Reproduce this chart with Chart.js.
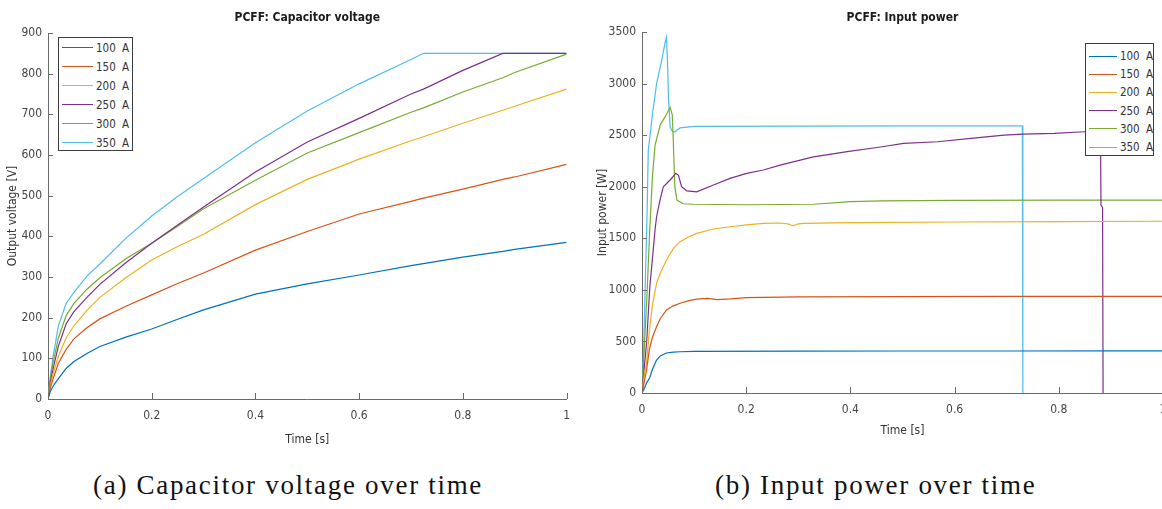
<!DOCTYPE html>
<html>
<head>
<meta charset="utf-8">
<script src="https://cdn.jsdelivr.net/npm/chart.js@4.4.0/dist/chart.umd.min.js"></script>
<style>
    html, body { margin: 0; padding: 0; background: #fff; overflow: hidden; width: 1162px; height: 509px; }
    canvas { position: absolute; top: 0; }
    #voltCanvas { left: 0; }
    #powerCanvas { left: 580px; }
    .legend { position: absolute; background: #fff; border: 1px solid #3c3c3c; box-sizing: border-box;
        font-family: 'Liberation Sans Narrow', 'DejaVu Sans Condensed', 'Liberation Sans', sans-serif;
        font-size: 11.5px; color: #333; }
    .legend .row { display: flex; align-items: center; white-space: pre; word-spacing: 3px; }
    .legend .swatch { display: inline-block; width: 31px; height: 0; border-top: 1.2px solid; margin-right: 3px; }
    .caption { position: absolute; top: 470px; line-height: 30px; white-space: nowrap;
        font-family: 'Liberation Serif', 'DejaVu Serif', serif; font-size: 27px; letter-spacing: 1.7px; color: #111; }
</style>
</head>
<body>
<canvas id="voltCanvas" width="580" height="460"></canvas>
<canvas id="powerCanvas" width="600" height="460"></canvas>
<div id="voltLegend" class="legend" style="left:58px; top:37px; width:75px; height:114px;"></div>
<div id="powerLegend" class="legend" style="left:1085px; top:43px; width:69px; height:113px; padding-top:3px;"></div>
<div class="caption" style="left:93px;">(a) Capacitor voltage over time</div>
<div class="caption" style="left:715px;">(b) Input power over time</div>
<script>
// Legenden ve seriler
const seriesLabels = ["100 A", "150 A", "200 A", "250 A", "300 A", "350 A"];
const seriesColors = ["#0072BD", "#D95319", "#EDB120", "#7E2F8E", "#77AC30", "#4DBEEE"];

// Eksen etiketleri
const timeTicks = [0, 0.2, 0.4, 0.6, 0.8, 1];
const voltTicks = [0, 100, 200, 300, 400, 500, 600, 700, 800, 900];
const powerTicks = [0, 500, 1000, 1500, 2000, 2500, 3000, 3500];

// (a) Kondansatör gerilimi [V]
const voltTime = [0, 0.005, 0.01, 0.02, 0.035, 0.05, 0.075, 0.1, 0.15, 0.2, 0.25, 0.3, 0.4, 0.5, 0.6, 0.7, 0.724, 0.8, 0.877, 0.9, 1.0];
const volt100 = [0, 20, 32, 50, 75, 92, 112, 129, 152, 172, 196, 219, 258, 283, 305, 328, 333, 349, 363, 368, 385];
const volt150 = [0, 30, 50, 88, 122, 148, 175, 197, 228, 256, 284, 310, 366, 412, 455, 486, 494, 516, 540, 546, 577];
const volt200 = [0, 38, 62, 105, 150, 180, 218, 250, 298, 342, 375, 405, 478, 540, 590, 635, 645, 678, 710, 720, 762];
const volt250 = [0, 45, 75, 130, 185, 215, 250, 282, 335, 383, 428, 472, 558, 632, 690, 750, 762, 808, 850, 850, 850];
const volt300 = [0, 55, 90, 150, 205, 235, 270, 298, 345, 383, 425, 468, 538, 605, 655, 705, 716, 755, 790, 803, 848];
const volt350 = [0, 60, 105, 180, 235, 262, 302, 332, 395, 450, 498, 542, 630, 708, 775, 835, 850, 850, 850, 850, 850];

// (b) Giriş gücü [W]
const power100Time = [0, 0.004, 0.009, 0.015, 0.02, 0.028, 0.035, 0.047, 0.06, 0.073, 0.1, 0.3, 0.5, 0.7, 0.9, 1.0];
const power100 = [0, 40, 100, 150, 230, 320, 360, 388, 396, 400, 404, 406, 407, 407, 408, 408];
const power150Time = [0, 0.004, 0.009, 0.014, 0.02, 0.028, 0.035, 0.047, 0.06, 0.073, 0.09, 0.105, 0.125, 0.145, 0.17, 0.2, 0.3, 0.5, 0.7, 1.0];
const power150 = [0, 100, 230, 420, 540, 643, 720, 805, 845, 870, 895, 910, 918, 905, 912, 925, 932, 935, 936, 937];
const power200Time = [0, 0.005, 0.009, 0.014, 0.02, 0.028, 0.035, 0.047, 0.06, 0.073, 0.09, 0.105, 0.137, 0.169, 0.201, 0.233, 0.265, 0.28, 0.29, 0.3, 0.31, 0.4, 0.6, 0.8, 1.0];
const power200 = [0, 200, 300, 600, 850, 1066, 1160, 1290, 1400, 1467, 1515, 1547, 1590, 1612, 1630, 1645, 1648, 1640, 1622, 1640, 1645, 1652, 1658, 1662, 1665];
const power250Time = [0, 0.009, 0.015, 0.02, 0.025, 0.028, 0.035, 0.041, 0.054, 0.065, 0.07, 0.076, 0.086, 0.105, 0.137, 0.169, 0.201, 0.233, 0.265, 0.329, 0.394, 0.458, 0.502, 0.567, 0.631, 0.695, 0.73, 0.791, 0.849, 0.88, 0.881, 0.884, 0.885];
const power250 = [0, 500, 1030, 1300, 1580, 1709, 1880, 2000, 2065, 2130, 2110, 2000, 1960, 1950, 2016, 2081, 2130, 2162, 2210, 2290, 2340, 2385, 2420, 2436, 2469, 2500, 2510, 2517, 2533, 2540, 1820, 1800, 0];
const power300Time = [0, 0.005, 0.01, 0.015, 0.02, 0.025, 0.035, 0.047, 0.054, 0.058, 0.06, 0.063, 0.067, 0.079, 0.1, 0.2, 0.33, 0.4, 0.46, 0.6, 0.8, 1.0];
const power300 = [0, 500, 1000, 1600, 2100, 2400, 2600, 2700, 2770, 2700, 2450, 2000, 1870, 1835, 1830, 1825, 1830, 1855, 1862, 1868, 1870, 1870];
const power350Time = [0, 0.003, 0.006, 0.01, 0.012, 0.02, 0.028, 0.038, 0.044, 0.047, 0.049, 0.051, 0.054, 0.058, 0.063, 0.073, 0.1, 0.3, 0.5, 0.73, 0.731];
const power350 = [0, 400, 1000, 1800, 2350, 2700, 3000, 3230, 3390, 3450, 3200, 2840, 2580, 2540, 2530, 2570, 2585, 2588, 2590, 2590, 0];

const axisColor = "#6b6b6b";
const tickColor = "#454545";
const narrowFont = "'Liberation Sans Narrow', 'DejaVu Sans Condensed', 'Liberation Sans', sans-serif";

// Zaman/değer dizilerini Chart.js noktalarına çevir
function toPoints(times, values) {
    return times.map((t, i) => ({ x: t, y: values[i] }));
}

function makeDatasets(pairs) {
    return pairs.map(([times, values], i) => ({
        label: seriesLabels[i],
        data: toPoints(times, values),
        borderColor: seriesColors[i],
        backgroundColor: seriesColors[i],
        borderWidth: 1.2,
        pointRadius: 0,
        tension: 0,
        fill: false,
    }));
}

// MATLAB tarzı içe dönük tik çizgileri
const innerTicks = {
    id: "innerTicks",
    afterDraw(chart) {
        const { ctx, chartArea, scales } = chart;
        ctx.save();
        ctx.strokeStyle = axisColor;
        ctx.lineWidth = 1;
        scales.x.ticks.forEach((t) => {
            const px = Math.round(scales.x.getPixelForValue(t.value)) + 0.5;
            ctx.beginPath();
            ctx.moveTo(px, chartArea.bottom);
            ctx.lineTo(px, chartArea.bottom - 6);
            ctx.stroke();
        });
        scales.y.ticks.forEach((t) => {
            const py = Math.round(scales.y.getPixelForValue(t.value)) + 0.5;
            ctx.beginPath();
            ctx.moveTo(chartArea.left, py);
            ctx.lineTo(chartArea.left + 5, py);
            ctx.stroke();
        });
        ctx.restore();
    },
};

function makeChart(canvasId, cfg) {
    const ctx = document.getElementById(canvasId).getContext("2d");
    return new Chart(ctx, {
        type: "line",
        data: { datasets: cfg.datasets },
        options: {
            responsive: false,
            animation: false,
            layout: { padding: cfg.padding },
            plugins: {
                legend: { display: false },
                tooltip: { enabled: false },
                title: {
                    display: true,
                    text: cfg.title,
                    fullSize: false,
                    color: "#1a1a1a",
                    font: { family: narrowFont, size: 12, weight: "bold" },
                    padding: cfg.titlePadding,
                },
            },
            scales: {
                x: {
                    type: "linear",
                    min: 0,
                    max: 1,
                    afterBuildTicks: (s) => { s.ticks = timeTicks.map((v) => ({ value: v })); },
                    afterFit: (s) => { s.height = cfg.xHeight; },
                    grid: { display: false, drawTicks: false },
                    border: { color: axisColor, width: 1 },
                    ticks: {
                        color: tickColor, font: { family: narrowFont, size: 12 }, padding: 10,
                        maxRotation: 0, autoSkip: false, callback: (v) => String(v),
                    },
                    title: {
                        display: true,
                        text: "Time [s]",
                        color: "#333",
                        font: { family: narrowFont, size: 12 },
                        padding: { top: 0, bottom: cfg.xTitleBottom },
                    },
                },
                y: {
                    type: "linear",
                    min: 0,
                    max: cfg.yTicks[cfg.yTicks.length - 1],
                    afterBuildTicks: (s) => { s.ticks = cfg.yTicks.map((v) => ({ value: v })); },
                    afterFit: (s) => { s.width = cfg.yWidth; },
                    grid: { display: false, drawTicks: false },
                    border: { color: axisColor, width: 1 },
                    ticks: {
                        color: tickColor, font: { family: narrowFont, size: 12 }, padding: 6,
                        autoSkip: false, callback: (v) => String(v),
                    },
                    title: {
                        display: true,
                        text: cfg.yTitle,
                        color: "#333",
                        font: { family: narrowFont, size: 12 },
                        padding: { top: 4, bottom: 0 },
                    },
                },
            },
        },
        plugins: [innerTicks],
    });
}

// HTML legend
function fillLegend(id, rowHeight) {
    const box = document.getElementById(id);
    seriesLabels.forEach((label, i) => {
        const row = `<div class="row" style="height:${rowHeight}px; padding-left:3px;">` +
            `<span class="swatch" style="border-color:${seriesColors[i]}"></span>${label}</div>`;
        box.insertAdjacentHTML("beforeend", row);
    });
}

makeChart("voltCanvas", {
    title: "PCFF: Capacitor voltage",
    titlePadding: { top: 11, bottom: 7.6 },
    padding: { left: 2, right: 13, top: 0, bottom: 0 },
    datasets: makeDatasets([
        [voltTime, volt100], [voltTime, volt150], [voltTime, volt200],
        [voltTime, volt250], [voltTime, volt300], [voltTime, volt350],
    ]),
    yTicks: voltTicks,
    yTitle: "Output voltage [V]",
    yWidth: 46,
    xHeight: 61,
    xTitleBottom: 12.8,
});

makeChart("powerCanvas", {
    title: "PCFF: Input power",
    titlePadding: { top: 10.5, bottom: 7.1 },
    padding: { left: 12, right: 17, top: 0, bottom: 0 },
    datasets: makeDatasets([
        [power100Time, power100], [power150Time, power150], [power200Time, power200],
        [power250Time, power250], [power300Time, power300], [power350Time, power350],
    ]),
    yTicks: powerTicks,
    yTitle: "Input power [W]",
    yWidth: 50,
    xHeight: 67,
    xTitleBottom: 21.8,
});

fillLegend("voltLegend", 19);
fillLegend("powerLegend", 18.2);
</script>
</body>
</html>
